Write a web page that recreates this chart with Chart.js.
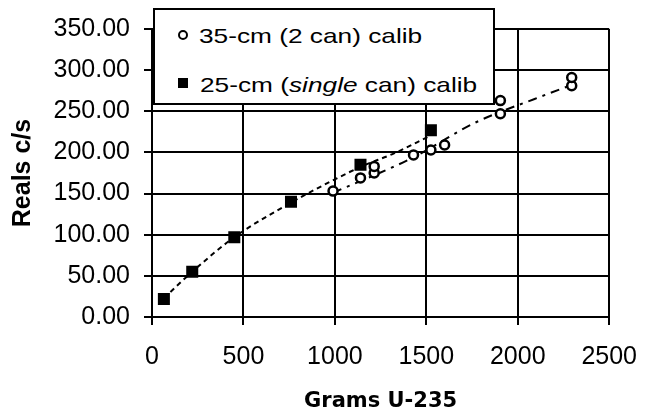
<!DOCTYPE html>
<html>
<head>
<meta charset="utf-8">
<script src="https://cdn.jsdelivr.net/npm/chart.js@4.4.1/dist/chart.umd.min.js"></script>
<style>
  body { margin: 0; background: #fff; }
  #wrap { position: relative; width: 654px; height: 414px; }
  #legend {
    position: absolute; left: 153px; top: 8px; width: 342px; height: 97px;
    box-sizing: border-box; border: 2px solid #000; background: #fff;
    font-family: 'Liberation Sans', Arial, sans-serif; font-size: 21px; line-height: 21px; color: #000;
  }
  #legend .txt { position: absolute; white-space: nowrap; transform: scaleX(1.25); transform-origin: left center; }
  #legend .circ { position: absolute; left: 23px; top: 20px; width: 10px; height: 10px; box-sizing: border-box; border: 2px solid #000; border-radius: 50%; background: #fff; }
  #legend .sq { position: absolute; left: 23px; top: 68px; width: 10px; height: 10px; background: #000; }
</style>
</head>
<body>
<div id="wrap">
  <canvas id="calibChart" width="654" height="414"></canvas>
  <div id="legend">
    <div class="circ"></div><span class="txt" style="left:44px;top:15px">35-cm (2 can) calib</span>
    <div class="sq"></div><span class="txt" style="left:45px;top:64px">25-cm (<i>single</i> can) calib</span>
  </div>
</div>
<script>
// 35-cm (2 can) calibration points
const gramsTwoCan = [990, 1140, 1215, 1215, 1430, 1525, 1600, 1905, 1905, 2295, 2295];
const realsTwoCan = [153, 169, 175, 183, 197, 203, 209, 247, 263, 281, 291];

// 25-cm (single can) calibration points
const gramsSingle = [65, 220, 450, 760, 1140, 1525];
const realsSingle = [22, 55, 97, 140, 185, 227];

// trend lines
const fitSingleX = [65, 220, 450, 760, 980, 1156, 1315, 1520];
const fitSingleY = [23, 55, 97, 139, 165, 184, 198, 220];
const fitTwoCanX = [990, 1420, 1775, 2092, 2295];
const fitTwoCanY = [151, 193, 237, 265, 282];

const xTicks = [0, 500, 1000, 1500, 2000, 2500];
const yTicks = [0, 50, 100, 150, 200, 250, 300, 350];

const pts = (xs, ys) => xs.map((x, i) => ({ x, y: ys[i] }));
const tickFont = { family: "'Liberation Sans', Arial, sans-serif", size: 25 };

new Chart(document.getElementById('calibChart').getContext('2d'), {
  type: 'scatter',
  data: {
    datasets: [
      {
        label: '35-cm (2 can) calib',
        data: pts(gramsTwoCan, realsTwoCan),
        pointStyle: 'circle', pointRadius: 4.5, borderWidth: 2.5,
        borderColor: '#000', backgroundColor: '#fff', order: 0
      },
      {
        label: '25-cm (single can) calib',
        data: pts(gramsSingle, realsSingle),
        pointStyle: 'rect', pointRadius: 8.5, borderWidth: 0,
        borderColor: '#000', backgroundColor: '#000', order: 0
      },
      {
        label: 'fit single',
        data: pts(fitSingleX, fitSingleY),
        showLine: true, pointRadius: 0, borderWidth: 2, borderColor: '#000',
        borderDash: [5, 4], cubicInterpolationMode: 'monotone', order: 1
      },
      {
        label: 'fit 2 can',
        data: pts(fitTwoCanX, fitTwoCanY),
        showLine: true, pointRadius: 0, borderWidth: 2, borderColor: '#000',
        borderDash: [9, 6, 3, 6], cubicInterpolationMode: 'monotone', order: 1
      }
    ]
  },
  options: {
    responsive: false, animation: false,
    layout: { padding: { top: 25, right: 30, left: 0, bottom: 0 } },
    plugins: { legend: { display: false }, tooltip: { enabled: false } },
    scales: {
      x: {
        type: 'linear', min: 0, max: 2500,
        afterBuildTicks: s => { s.ticks = xTicks.map(v => ({ value: v })); },
        afterFit: s => { s.height = 97; },
        ticks: { color: '#000', font: tickFont, padding: 17, maxRotation: 0, callback: v => String(v) },
        grid: { color: '#000', lineWidth: 2, tickLength: 8, tickColor: '#000', tickWidth: 2 },
        border: { color: '#000', width: 2 },
        title: {
          display: true, text: 'Grams U-235', color: '#000',
          font: { family: "'DejaVu Sans', sans-serif", size: 21, weight: 'bold', lineHeight: 1.2 },
          padding: { top: 0, bottom: 0 }
        }
      },
      y: {
        type: 'linear', min: 0, max: 350,
        afterBuildTicks: s => { s.ticks = yTicks.map(v => ({ value: v })); },
        afterFit: s => { s.width = 152; },
        ticks: { color: '#000', font: tickFont, padding: 14, callback: v => v.toFixed(2) },
        grid: { color: '#000', lineWidth: 2, tickLength: 8, tickColor: '#000', tickWidth: 2 },
        border: { color: '#000', width: 2 },
        title: {
          display: true, text: 'Reals c/s', color: '#000',
          font: { family: "'Liberation Sans', Arial, sans-serif", size: 25, weight: 'bold', lineHeight: 1.2 },
          padding: { top: 8, bottom: 0 }
        }
      }
    }
  }
});
</script>
</body>
</html>
